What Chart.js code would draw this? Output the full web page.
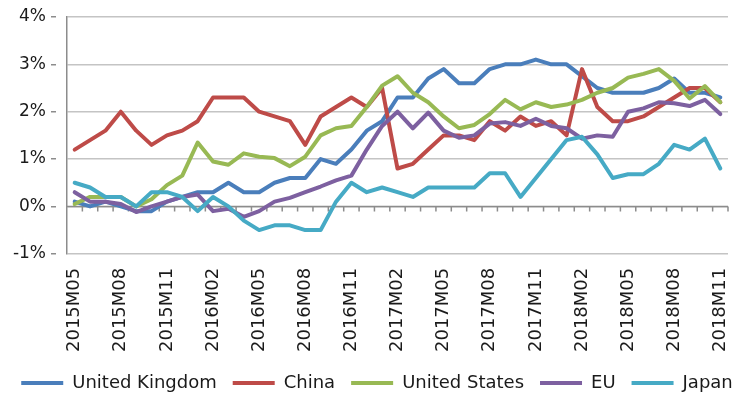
<!DOCTYPE html>
<html>
<head>
<meta charset="utf-8">
<script src="https://cdn.jsdelivr.net/npm/chart.js@4/dist/chart.umd.min.js"></script>
<style>
  body { margin: 0; background: #fff; }
</style>
</head>
<body>
<canvas id="inflationChart" width="754" height="394"></canvas>
<script>
// Monthly categories
var months = [
    '2015M05', '2015M06', '2015M07', '2015M08', '2015M09', '2015M10', '2015M11', '2015M12',
    '2016M01', '2016M02', '2016M03', '2016M04', '2016M05', '2016M06', '2016M07', '2016M08',
    '2016M09', '2016M10', '2016M11', '2016M12',
    '2017M01', '2017M02', '2017M03', '2017M04', '2017M05', '2017M06', '2017M07', '2017M08',
    '2017M09', '2017M10', '2017M11', '2017M12',
    '2018M01', '2018M02', '2018M03', '2018M04', '2018M05', '2018M06', '2018M07', '2018M08',
    '2018M09', '2018M10', '2018M11'
];

// Inflation rate, %
var unitedKingdom = [0.1, 0.0, 0.1, 0.0, -0.1, -0.1, 0.1, 0.2, 0.3, 0.3, 0.5, 0.3, 0.3, 0.5, 0.6, 0.6,
    1.0, 0.9, 1.2, 1.6, 1.8, 2.3, 2.3, 2.7, 2.9, 2.6, 2.6, 2.9, 3.0, 3.0, 3.1, 3.0,
    3.0, 2.75, 2.5, 2.4, 2.4, 2.4, 2.5, 2.7, 2.4, 2.4, 2.3];
var china = [1.2, 1.4, 1.6, 2.0, 1.6, 1.3, 1.5, 1.6, 1.8, 2.3, 2.3, 2.3, 2.0, 1.9, 1.8, 1.3,
    1.9, 2.1, 2.3, 2.1, 2.5, 0.8, 0.9, 1.2, 1.5, 1.5, 1.4, 1.8, 1.6, 1.9, 1.7, 1.8,
    1.5, 2.9, 2.1, 1.8, 1.8, 1.9, 2.1, 2.3, 2.5, 2.5, 2.2];
var unitedStates = [0.05, 0.2, 0.2, 0.2, 0.0, 0.15, 0.45, 0.65, 1.35, 0.95, 0.88, 1.12, 1.05, 1.02, 0.85, 1.05,
    1.5, 1.65, 1.7, 2.1, 2.55, 2.75, 2.4, 2.2, 1.9, 1.65, 1.72, 1.95, 2.25, 2.05, 2.2, 2.1,
    2.15, 2.25, 2.4, 2.5, 2.72, 2.8, 2.9, 2.65, 2.28, 2.54, 2.2];
var eu = [0.3, 0.1, 0.1, 0.05, -0.12, 0.0, 0.1, 0.2, 0.25, -0.1, -0.05, -0.22, -0.1, 0.1, 0.18, 0.3,
    0.42, 0.55, 0.65, 1.2, 1.7, 2.0, 1.65, 1.98, 1.6, 1.45, 1.5, 1.75, 1.78, 1.7, 1.85, 1.7,
    1.65, 1.43, 1.5, 1.47, 2.0, 2.07, 2.2, 2.18, 2.12, 2.25, 1.95];
var japan = [0.5, 0.4, 0.2, 0.2, 0.0, 0.3, 0.3, 0.2, -0.1, 0.2, 0.0, -0.3, -0.5, -0.4, -0.4, -0.5,
    -0.5, 0.1, 0.5, 0.3, 0.4, 0.3, 0.2, 0.4, 0.4, 0.4, 0.4, 0.7, 0.7, 0.2, 0.6, 1.0,
    1.4, 1.47, 1.1, 0.6, 0.68, 0.68, 0.9, 1.3, 1.2, 1.43, 0.8];

var seriesNames = ['United Kingdom', 'China', 'United States', 'EU', 'Japan'];
var seriesValues = [unitedKingdom, china, unitedStates, eu, japan];
var seriesColors = ['#4A7EBB', '#BE4B48', '#98B954', '#7D60A0', '#46AAC5'];

// y-axis ticks
var yMin = -1, yMax = 4, yStep = 1;

// draws the horizontal axis line at 0% with tick marks between categories
var zeroAxisPlugin = {
    id: 'zeroAxis',
    beforeDatasetsDraw: function(chart) {
        var ctx = chart.ctx;
        var x = chart.scales.x;
        var y0 = chart.scales.y.getPixelForValue(0);
        var area = chart.chartArea;
        ctx.save();
        ctx.strokeStyle = '#8C8C8C';
        ctx.lineWidth = 1.5;
        ctx.beginPath();
        ctx.moveTo(area.left, y0);
        ctx.lineTo(area.right, y0);
        for (var i = 0; i < months.length; i++) {
            var bx = i < months.length - 1
                ? (x.getPixelForValue(i) + x.getPixelForValue(i + 1)) / 2
                : area.right;
            ctx.moveTo(bx, y0);
            ctx.lineTo(bx, y0 + 5);
        }
        ctx.stroke();
        ctx.restore();
    }
};

var ctx = document.getElementById('inflationChart').getContext('2d');

var myChart = new Chart(ctx, {
    type: 'line',
    data: {
        labels: months,
        datasets: seriesNames.map(function(name, i) {
            return {
                label: name,
                data: seriesValues[i],
                borderColor: seriesColors[i],
                backgroundColor: seriesColors[i],
                borderWidth: 4,
                pointRadius: 0,
                tension: 0,
                borderJoinStyle: 'round',
                borderCapStyle: 'round',
                order: seriesNames.length - i
            };
        })
    },
    options: {
        responsive: false,
        animation: false,
        layout: {
            padding: { top: 17, right: 0, left: 0, bottom: -8 }
        },
        scales: {
            x: {
                offset: true,
                grid: { display: false },
                border: { display: false },
                ticks: {
                    autoSkip: false,
                    minRotation: 90,
                    maxRotation: 90,
                    padding: 6,
                    color: '#1a1a1a',
                    font: { family: 'DejaVu Sans', size: 18 },
                    callback: function(value, index) {
                        return index % 3 === 0 ? months[index] : '';
                    }
                }
            },
            y: {
                min: yMin,
                max: yMax,
                afterFit: function(scale) { scale.width = 67; },
                grid: {
                    color: '#C4C4C4',
                    lineWidth: 1.5,
                    tickLength: 16,
                    tickBorderDash: [5, 100],
                    tickColor: '#8C8C8C'
                },
                border: { color: '#8C8C8C', width: 1.5 },
                ticks: {
                    stepSize: yStep,
                    padding: 5,
                    color: '#1a1a1a',
                    font: { family: 'DejaVu Sans', size: 17 },
                    callback: function(value) {
                        return value + '%';
                    }
                }
            },
            // empty right-hand margin
            yRight: {
                position: 'right',
                min: yMin,
                max: yMax,
                afterFit: function(scale) { scale.width = 26; },
                grid: { display: false },
                border: { display: false },
                ticks: { display: false }
            }
        },
        plugins: {
            legend: {
                position: 'bottom',
                labels: {
                    boxWidth: 42,
                    boxHeight: 4,
                    padding: 16,
                    color: '#1a1a1a',
                    font: { family: 'DejaVu Sans', size: 18 },
                    sort: function(a, b) { return a.datasetIndex - b.datasetIndex; },
                    generateLabels: function(chart) {
                        var items = Chart.defaults.plugins.legend.labels.generateLabels(chart);
                        items.forEach(function(item) { item.lineWidth = 0; });
                        return items;
                    }
                }
            },
            tooltip: { enabled: false }
        }
    },
    plugins: [zeroAxisPlugin]
});
</script>
</body>
</html>
